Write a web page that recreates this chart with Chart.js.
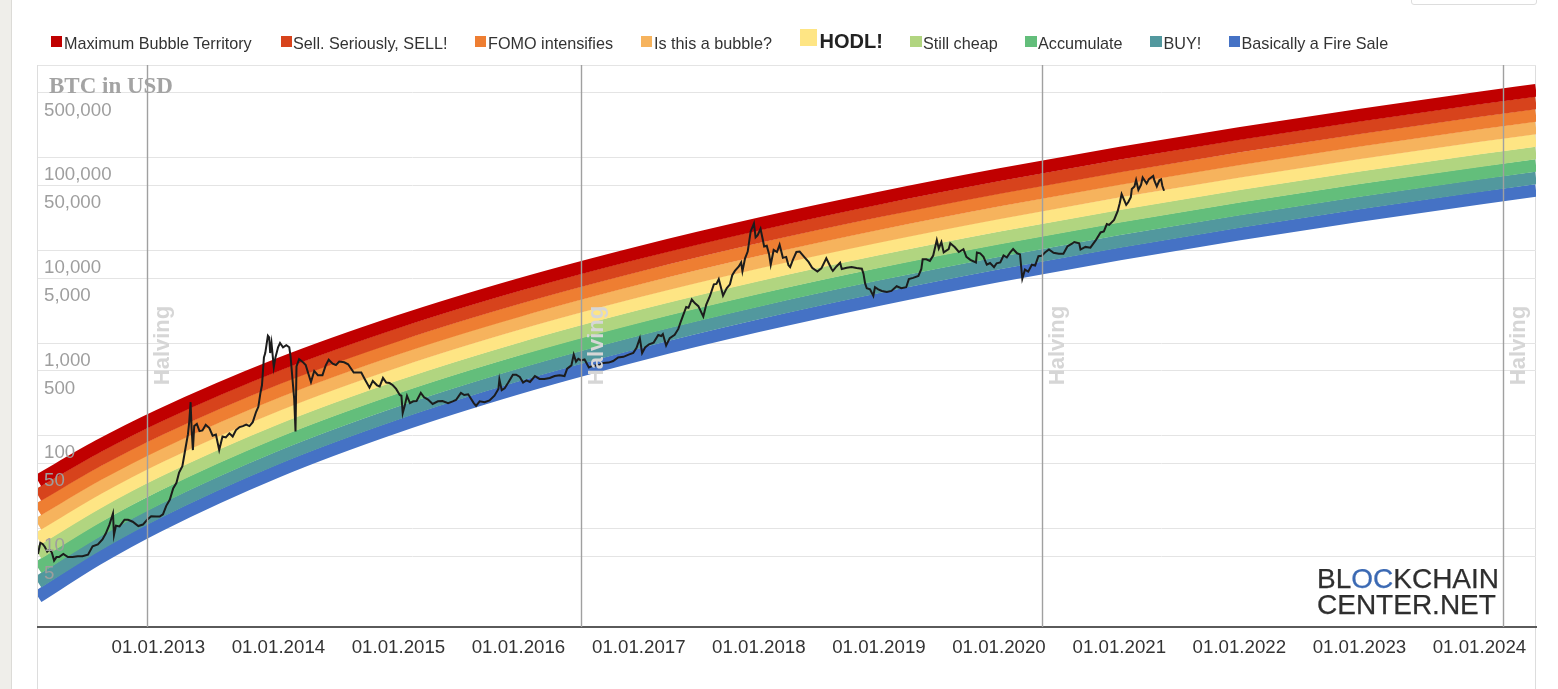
<!DOCTYPE html>
<html>
<head>
<meta charset="utf-8">
<title>Bitcoin Rainbow Price Chart</title>
<script src="https://cdn.jsdelivr.net/npm/chart.js@4.4.1/dist/chart.umd.min.js"></script>
<style>
  html, body { margin:0; padding:0; background:#fff; }
  body { width:1558px; height:689px; overflow:hidden; position:relative; font-family:"Liberation Sans", Arial, sans-serif; }
  #strip { position:absolute; left:0; top:0; width:11px; height:689px; background:#efeeea; border-right:1px solid #dcdbd7; }
  #frame { position:absolute; left:37px; top:65px; width:1497px; height:640px; border:1px solid #dddddd; border-bottom:none; }
  #topbtn { position:absolute; left:1411px; top:-12px; width:124px; height:15px; border:1px solid #dddddd; border-radius:3px; background:#fff; }
  #wrap { position:absolute; left:0; top:0; width:1558px; height:689px; }
  #c { width:1558px; height:689px; display:block; }
  .mk { position:absolute; }
  .tx { position:absolute; font-size:16.2px; line-height:16px; color:#333; white-space:nowrap; }
  #ytitle { position:absolute; left:49px; top:73.7px; font-family:"Liberation Serif", "Times New Roman", serif; font-weight:bold; font-size:23px; line-height:23px; color:#a3a3a3; white-space:nowrap; }
  .logo { position:absolute; left:1317px; font-size:28px; line-height:28px; color:#2e2e2e; white-space:nowrap; -webkit-text-stroke:0.25px #2e2e2e; }
  .logo span { color:#3b69b3; -webkit-text-stroke:0.25px #3b69b3; }
</style>
</head>
<body>
<div id="strip"></div>
<div id="frame"></div>
<div id="topbtn"></div>
<div id="wrap"><canvas id="c" width="1558" height="689"></canvas></div>
<div id="legend"></div>
<div id="ytitle">BTC in USD</div>
<div class="logo" style="top:565.3px">BL<span>OC</span>KCHAIN</div>
<div class="logo" style="top:591.3px">CENTER.NET</div>
<script>
// ---------------- DATA ----------------
const bandNames = ['Maximum Bubble Territory','Sell. Seriously, SELL!','FOMO intensifies','Is this a bubble?','HODL!','Still cheap','Accumulate','BUY!','Basically a Fire Sale'];
const bandColors = ['#c00000','#d7431c','#ee7e32','#f6b35d','#fee584','#b1d580','#63be7b','#52989e','#4572c5'];

const bandDates = ['2012-01-01','2012-07-01','2013-01-01','2014-01-01','2015-01-01','2016-01-01','2017-01-01','2018-01-01','2019-01-01','2020-01-01','2021-01-01','2022-01-01','2023-01-01','2024-01-01','2024-06-21'];
const bandMaxBubble  = [32.7, 76.6, 163.3, 587.6, 1706, 4253, 9469, 19272, 36521, 65304, 111430, 182120, 287530, 440420, 532480];
const bandSell       = [22.8, 54.0, 116.2, 422, 1233, 3087, 6892, 14054, 26666, 47738, 81520, 133320, 210590, 322700, 390220];
const bandFomo       = [15.93, 38.1, 82.6, 303, 892, 2241, 5017, 10248, 19473, 34896, 59638, 97595, 154240, 236440, 285960];
const bandBubble     = [11.11, 26.9, 58.8, 218, 645, 1627, 3651, 7473, 14219, 25509, 43629, 71443, 112970, 173240, 209560];
const bandHodl       = [7.75, 18.97, 41.8, 156.7, 466, 1181, 2658, 5450, 10383, 18647, 31917, 52298, 82740, 126940, 153570];
const bandCheap      = [5.40, 13.38, 29.7, 112.6, 337, 857, 1934, 3974, 7582, 13630, 23349, 38284, 60601, 93007, 112540];
const bandAccumulate = [3.77, 9.44, 21.1, 80.9, 244, 622, 1408, 2898, 5536, 9964, 17081, 28025, 44385, 68146, 82471];
const bandBuy        = [2.63, 6.66, 15.04, 58.1, 176, 452, 1025, 2113, 4043, 7283, 12497, 20515, 32509, 49931, 60437];
const bandFireSale   = [1.834, 4.70, 10.69, 41.8, 127.4, 328, 746, 1541, 2952, 5324, 9142, 15018, 23810, 36585, 44289];
const bandSeries = [bandMaxBubble, bandSell, bandFomo, bandBubble, bandHodl, bandCheap, bandAccumulate, bandBuy, bandFireSale];

const priceDates = [
 '2012-01-01','2012-01-08','2012-01-15','2012-01-22','2012-01-29','2012-02-05','2012-02-12','2012-02-19','2012-02-26','2012-03-05','2012-03-18','2012-04-01','2012-04-15','2012-05-01','2012-05-15','2012-06-01','2012-06-15','2012-07-01','2012-07-15','2012-07-25','2012-08-05','2012-08-16','2012-08-19','2012-08-25','2012-09-05','2012-09-20','2012-10-01','2012-10-15','2012-11-01','2012-11-15','2012-11-28','2012-12-10','2012-12-25',
 '2013-01-05','2013-01-15','2013-01-25','2013-02-05','2013-02-15','2013-02-25','2013-03-05','2013-03-15','2013-03-25','2013-04-01','2013-04-05','2013-04-09','2013-04-12','2013-04-16','2013-04-20','2013-04-28','2013-05-06','2013-05-15','2013-05-25','2013-06-05','2013-06-15','2013-06-25','2013-07-05','2013-07-15','2013-07-25','2013-08-05','2013-08-15','2013-08-25','2013-09-05','2013-09-15','2013-09-25','2013-10-05','2013-10-15','2013-10-25','2013-11-01','2013-11-07','2013-11-12','2013-11-18','2013-11-22','2013-11-30','2013-12-04','2013-12-07','2013-12-11','2013-12-18','2013-12-23','2013-12-31',
 '2014-01-06','2014-01-15','2014-01-25','2014-02-03','2014-02-07','2014-02-13','2014-02-18','2014-02-22','2014-02-25','2014-03-05','2014-03-15','2014-03-25','2014-04-01','2014-04-10','2014-04-20','2014-05-01','2014-05-15','2014-05-25','2014-06-03','2014-06-15','2014-06-25','2014-07-05','2014-07-20','2014-08-01','2014-08-18','2014-09-01','2014-09-10','2014-09-22','2014-10-05','2014-10-15','2014-10-28','2014-11-05','2014-11-15','2014-11-25','2014-12-05','2014-12-15','2014-12-25',
 '2015-01-05','2015-01-10','2015-01-14','2015-01-20','2015-01-27','2015-02-05','2015-02-15','2015-02-25','2015-03-10','2015-03-20','2015-04-01','2015-04-15','2015-05-01','2015-05-15','2015-06-01','2015-06-15','2015-06-25','2015-07-10','2015-07-20','2015-08-01','2015-08-18','2015-08-25','2015-09-05','2015-09-20','2015-10-05','2015-10-20','2015-11-01','2015-11-04','2015-11-11','2015-11-20','2015-12-01','2015-12-15','2015-12-25',
 '2016-01-05','2016-01-15','2016-01-25','2016-02-05','2016-02-20','2016-03-05','2016-03-20','2016-04-05','2016-04-20','2016-05-05','2016-05-20','2016-05-28','2016-06-10','2016-06-17','2016-06-24','2016-07-01','2016-07-09','2016-07-20','2016-08-02','2016-08-15','2016-09-01','2016-09-15','2016-10-01','2016-10-15','2016-10-30','2016-11-15','2016-12-01','2016-12-15','2016-12-25',
 '2017-01-04','2017-01-11','2017-01-20','2017-02-01','2017-02-15','2017-03-01','2017-03-10','2017-03-15','2017-03-25','2017-04-05','2017-04-20','2017-05-01','2017-05-10','2017-05-25','2017-06-01','2017-06-11','2017-06-20','2017-07-01','2017-07-16','2017-07-25','2017-08-05','2017-08-17','2017-08-25','2017-09-01','2017-09-14','2017-09-25','2017-10-05','2017-10-12','2017-10-20','2017-11-01','2017-11-08','2017-11-12','2017-11-20','2017-11-28','2017-12-07','2017-12-17','2017-12-22','2017-12-28',
 '2018-01-06','2018-01-12','2018-01-17','2018-01-25','2018-02-01','2018-02-06','2018-02-15','2018-02-25','2018-03-05','2018-03-15','2018-03-25','2018-04-01','2018-04-06','2018-04-15','2018-04-25','2018-05-05','2018-05-20','2018-06-01','2018-06-12','2018-06-28','2018-07-10','2018-07-25','2018-08-10','2018-08-14','2018-08-25','2018-09-05','2018-09-10','2018-09-25','2018-10-10','2018-10-25','2018-11-10','2018-11-15','2018-11-20','2018-11-25','2018-12-05','2018-12-15','2018-12-20','2018-12-30',
 '2019-01-10','2019-01-25','2019-02-08','2019-02-24','2019-03-10','2019-03-25','2019-04-02','2019-04-15','2019-05-01','2019-05-10','2019-05-14','2019-05-25','2019-06-05','2019-06-15','2019-06-26','2019-07-02','2019-07-10','2019-07-17','2019-08-01','2019-08-06','2019-08-20','2019-09-01','2019-09-15','2019-09-24','2019-10-06','2019-10-23','2019-10-26','2019-11-05','2019-11-15','2019-11-25','2019-12-05','2019-12-17','2019-12-25',
 '2020-01-05','2020-01-15','2020-01-25','2020-02-05','2020-02-13','2020-02-25','2020-03-05','2020-03-12','2020-03-20','2020-03-30','2020-04-10','2020-04-20','2020-04-30','2020-05-10','2020-05-20','2020-06-01','2020-06-15','2020-07-01','2020-07-15','2020-07-27','2020-08-10','2020-08-17','2020-09-01','2020-09-05','2020-09-20','2020-10-05','2020-10-21','2020-11-05','2020-11-15','2020-11-24','2020-12-01','2020-12-16','2020-12-27',
 '2021-01-02','2021-01-08','2021-01-22','2021-01-28','2021-02-05','2021-02-08','2021-02-16','2021-02-21','2021-02-28','2021-03-08','2021-03-13','2021-03-25','2021-04-01','2021-04-14','2021-04-18','2021-04-25','2021-05-03','2021-05-08','2021-05-12','2021-05-17'
];
const priceValues = [
 5.3,7.0,6.8,6.3,5.6,5.9,5.5,4.5,4.9,4.9,5.3,4.9,4.9,5.0,5.0,5.2,6.4,6.7,7.6,8.8,10.9,14.5,8.5,10.7,10.5,12.4,12.4,11.8,10.6,11.0,12.4,13.5,13.4,
 13.4,14.2,17.5,20.5,27,31,40,47,75,104,143,230,120,70,127,134,112,114,131,121,100,103,70,98,96,106,98,115,124,127,132,127,140,180,205,285,350,700,780,1200,1150,780,1000,550,700,900,
 1000,900,950,900,720,400,250,111,560,670,630,580,480,380,500,450,450,575,660,600,580,630,620,590,480,480,480,400,330,390,350,340,420,375,370,350,320,
 275,270,175,210,270,225,235,237,290,260,245,220,235,237,225,235,243,290,275,280,225,210,235,230,240,270,320,405,310,325,375,455,455,
 430,375,395,380,440,410,410,420,440,450,440,530,575,750,630,675,650,665,545,570,575,610,615,640,700,710,750,780,890,
 1130,780,895,970,1010,1220,1190,1250,940,1130,1230,1420,1760,2450,2400,2950,2700,2500,1930,2600,3200,4300,4350,4900,3250,3900,4300,5400,6000,6700,7400,5950,8200,9700,16000,19500,13800,14500,
 17100,13500,11000,11200,9100,7000,10100,9600,11500,8300,8500,6900,6600,8000,9600,9700,8400,7500,6500,5900,6400,8200,6300,6000,6700,7350,6300,6500,6600,6450,6350,5600,4400,3900,3800,3230,4000,3800,
 3650,3550,3650,4100,3900,4000,4900,5050,5300,6300,8000,8000,7700,8800,12900,10500,12300,9500,10300,11900,10800,9600,10300,8500,7900,7400,9500,9300,8500,7000,7300,6600,7250,
 7400,8800,8400,9600,10350,9300,9050,4950,6200,5900,7000,6850,8650,8750,9500,10200,9400,9200,9200,11000,11800,12300,11900,10200,10900,10700,12800,15600,16000,19200,18800,21300,26500,
 32000,40500,31000,33000,37500,46000,49000,57500,45000,51000,61000,52500,58700,63500,56000,49000,57000,58500,49500,44000
];

const halvingDates = ['2012-11-28','2016-07-09','2020-05-11','2024-03-12'];
const halvingLabel = 'Halving';

const xTickDates  = ['2013-01-01','2014-01-01','2015-01-01','2016-01-01','2017-01-01','2018-01-01','2019-01-01','2020-01-01','2021-01-01','2022-01-01','2023-01-01','2024-01-01'];
const xTickLabels = ['01.01.2013','01.01.2014','01.01.2015','01.01.2016','01.01.2017','01.01.2018','01.01.2019','01.01.2020','01.01.2021','01.01.2022','01.01.2023','01.01.2024'];
const yTickValues = [5, 10, 50, 100, 500, 1000, 5000, 10000, 50000, 100000, 500000, 1000000];
const yTickLabels = ['5','10','50','100','500','1,000','5,000','10,000','50,000','100,000','500,000',''];

const xMinDate = '2012-01-01';
const xMaxDate = '2024-06-21';
const yMin = 0.863;
const yMax = 1000000;

// ---------------- LEGEND (HTML) ----------------
const legendMarkerX = [50.5, 280.5, 474.5, 640.5, 800, 910, 1025, 1150, 1228.5];
const legendTextX   = [64, 293, 488, 654, 819.5, 923, 1038, 1163.5, 1241.5];
const legendEl = document.getElementById('legend');
bandNames.forEach((name, i) => {
  const big = (i === 4);
  const mk = document.createElement('div');
  mk.className = 'mk';
  mk.style.left = legendMarkerX[i] + 'px';
  mk.style.top = (big ? 28.5 : 35.5) + 'px';
  mk.style.width = (big ? 17 : 11.5) + 'px';
  mk.style.height = (big ? 17 : 11.5) + 'px';
  mk.style.background = bandColors[i];
  legendEl.appendChild(mk);
  const tx = document.createElement('div');
  tx.className = 'tx';
  tx.textContent = name;
  tx.style.left = legendTextX[i] + 'px';
  if (big) {
    tx.style.fontWeight = 'bold';
    tx.style.fontSize = '20px';
    tx.style.lineHeight = '20px';
    tx.style.top = '30.8px';
    tx.style.color = '#222';
  } else {
    tx.style.top = '35.2px';
  }
  legendEl.appendChild(tx);
});

// ---------------- CHART ----------------
const t = d => Date.parse(d);
const FONT = '"Liberation Sans", Arial, sans-serif';
Chart.defaults.font.family = FONT;

const priceData = priceDates.map((d, i) => ({ x: t(d), y: priceValues[i] }));
const datasets = [{
  label: 'BTC in USD',
  data: priceData,
  borderColor: '#1c1c1c',
  borderWidth: 2,
  pointRadius: 0,
  fill: false,
  tension: 0
}];
bandSeries.forEach((vals, i) => {
  datasets.push({
    label: bandNames[i],
    data: bandDates.map((d, j) => ({ x: t(d), y: vals[j] })),
    borderColor: bandColors[i],
    borderWidth: 12.7,
    borderCapStyle: 'butt',
    pointRadius: 0,
    fill: false,
    cubicInterpolationMode: 'monotone'
  });
});

const halvingPlugin = {
  id: 'halving',
  afterDatasetsDraw(chart) {
    const { ctx, chartArea: a, scales: { x } } = chart;
    ctx.save();
    halvingDates.forEach(d => {
      const px = Math.round(x.getPixelForValue(t(d))) + 0.5;
      ctx.strokeStyle = '#a0a0a0';
      ctx.lineWidth = 1.4;
      ctx.beginPath();
      ctx.moveTo(px, a.top);
      ctx.lineTo(px, a.bottom);
      ctx.stroke();
      ctx.save();
      ctx.translate(px + 21, 345.5);
      ctx.rotate(-Math.PI / 2);
      ctx.font = 'bold 22px ' + FONT;
      ctx.fillStyle = '#d6d6d6';
      ctx.textAlign = 'center';
      ctx.textBaseline = 'alphabetic';
      ctx.fillText(halvingLabel, 0, 0);
      ctx.restore();
    });
    ctx.restore();
  }
};

new Chart(document.getElementById('c'), {
  type: 'line',
  data: { datasets },
  options: {
    responsive: false,
    maintainAspectRatio: false,
    animation: false,
    parsing: false,
    normalized: true,
    layout: { padding: { left: 38, top: 65, right: 22, bottom: 0 } },
    plugins: { legend: { display: false }, tooltip: { enabled: false }, title: { display: false } },
    scales: {
      x: {
        type: 'linear',
        bounds: 'data',
        min: t(xMinDate),
        max: t(xMaxDate),
        afterBuildTicks: s => { s.ticks = xTickDates.map(d => ({ value: t(d) })); },
        afterFit: s => { s.height = 62; },
        ticks: {
          autoSkip: false,
          maxRotation: 0,
          padding: 10,
          color: '#333',
          font: { size: 18.7, family: FONT },
          callback: (v, i) => xTickLabels[i]
        },
        grid: { display: true, drawOnChartArea: false, drawTicks: false },
        border: { display: true, color: '#5a5a5a', width: 2 }
      },
      y: {
        type: 'logarithmic',
        position: 'left',
        bounds: 'data',
        min: yMin,
        max: yMax,
        afterBuildTicks: s => { s.ticks = yTickValues.map(v => ({ value: v })); },
        afterFit: s => { s.width = 0; },
        border: { display: false },
        grid: { color: '#e4e4e4', lineWidth: 1, drawTicks: false, z: -1 },
        ticks: {
          z: 1,
          mirror: true,
          autoSkip: false,
          padding: 6,
          labelOffset: 17.5,
          color: '#9e9e9e',
          font: { size: 18.7, family: FONT },
          callback: (v, i) => yTickLabels[i]
        }
      }
    }
  },
  plugins: [halvingPlugin]
});
</script>
</body>
</html>
